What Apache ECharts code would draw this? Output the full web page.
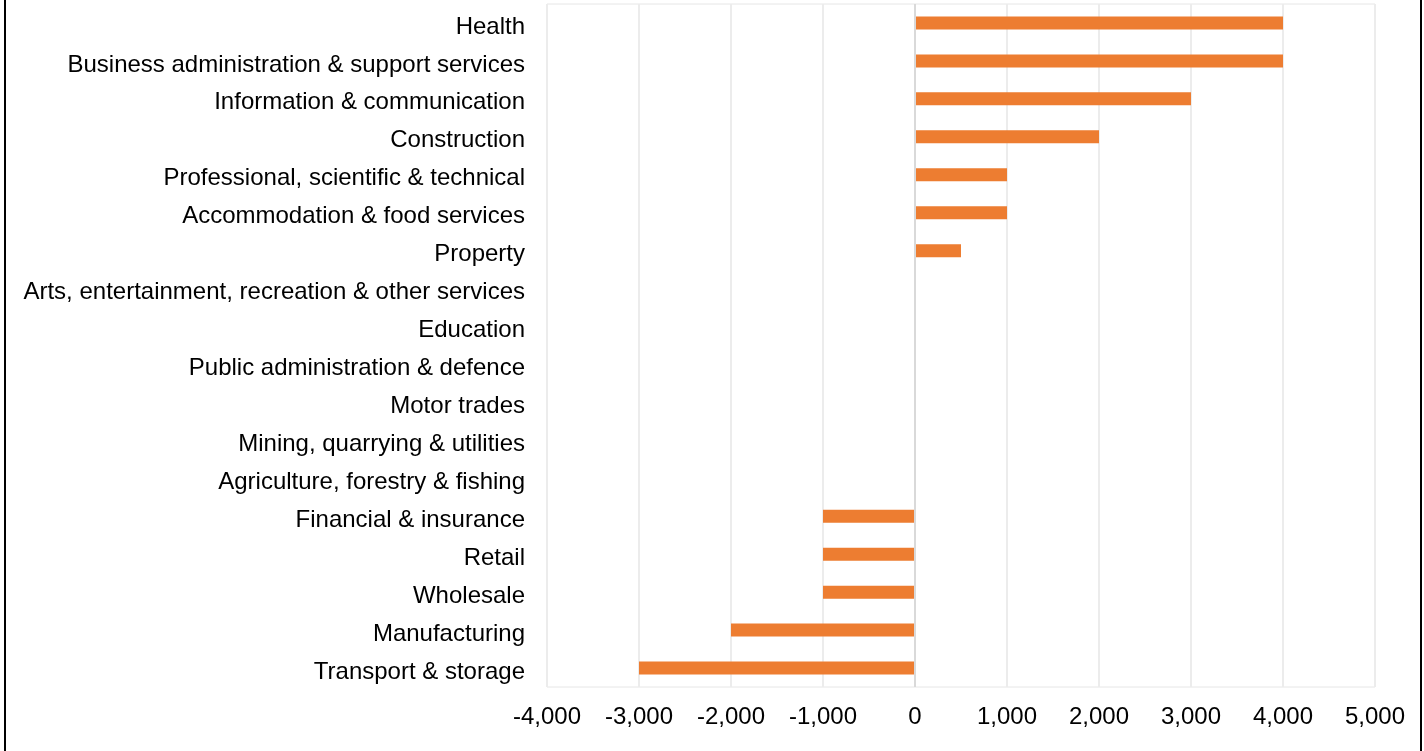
<!DOCTYPE html>
<html>
<head>
<meta charset="utf-8">
<script src="https://cdn.jsdelivr.net/npm/echarts@6/dist/echarts.min.js"></script>
<style>
html,body{margin:0;padding:0;background:#fff;}
#wrap{position:relative;width:1424px;height:751px;}
#chart{position:absolute;left:0;top:0;width:1424px;height:751px;}
#frame{position:absolute;left:4px;top:-2px;width:1414px;height:755px;border-left:2px solid #000;border-right:2px solid #000;pointer-events:none;}
</style>
</head>
<body>
<div id="wrap"><div id="chart"></div><div id="frame"></div></div>
<script>
// Categories listed bottom to top (ECharts category y-axis starts at the bottom)
const categories = [
  "Transport & storage",
  "Manufacturing",
  "Wholesale",
  "Retail",
  "Financial & insurance",
  "Agriculture, forestry & fishing",
  "Mining, quarrying & utilities",
  "Motor trades",
  "Public administration & defence",
  "Education",
  "Arts, entertainment, recreation & other services",
  "Property",
  "Accommodation & food services",
  "Professional, scientific & technical",
  "Construction",
  "Information & communication",
  "Business administration & support services",
  "Health"
];
const values = [-3000, -2000, -1000, -1000, -1000, 0, 0, 0, 0, 0, 0, 500, 1000, 1000, 2000, 3000, 4000, 4000];
const axisMin = -4000;
const axisMax = 5000;
const axisStep = 1000;
const zeroValue = 0;

const FONT = "'Liberation Sans', Arial, sans-serif";
const chart = echarts.init(document.getElementById('chart'), null, {renderer: 'canvas'});
chart.setOption({
  animation: false,
  backgroundColor: '#ffffff',
  grid: {left: 547, right: 49, top: 4, bottom: 64, containLabel: false,
         show: true, borderColor: '#e6e6e6', borderWidth: 1},
  xAxis: {
    type: 'value', min: axisMin, max: axisMax, interval: axisStep,
    axisLine: {show: false}, axisTick: {show: false},
    splitLine: {show: true, lineStyle: {color: '#ececec', width: 2}},
    axisLabel: {
      color: '#000', fontFamily: FONT, fontSize: 24, margin: 18,
      formatter: v => v.toLocaleString('en-US')
    }
  },
  yAxis: {
    type: 'category', data: categories,
    axisLine: {show: false}, axisTick: {show: false}, splitLine: {show: false},
    axisLabel: {
      margin: 22,
      formatter: v => '{l|' + v + '}',
      rich: {l: {color: '#000', fontFamily: FONT, fontSize: 24, lineHeight: 28, padding: [8, 0, 0, 0]}}
    }
  },
  series: [{
    type: 'bar', data: values, barWidth: 13,
    itemStyle: {color: '#ED7D31'},
    markLine: {
      silent: true, symbol: ['none', 'none'], label: {show: false},
      lineStyle: {color: '#d9d9d9', width: 2, type: 'solid'},
      data: [{xAxis: zeroValue}]
    }
  }]
});
</script>
</body>
</html>
